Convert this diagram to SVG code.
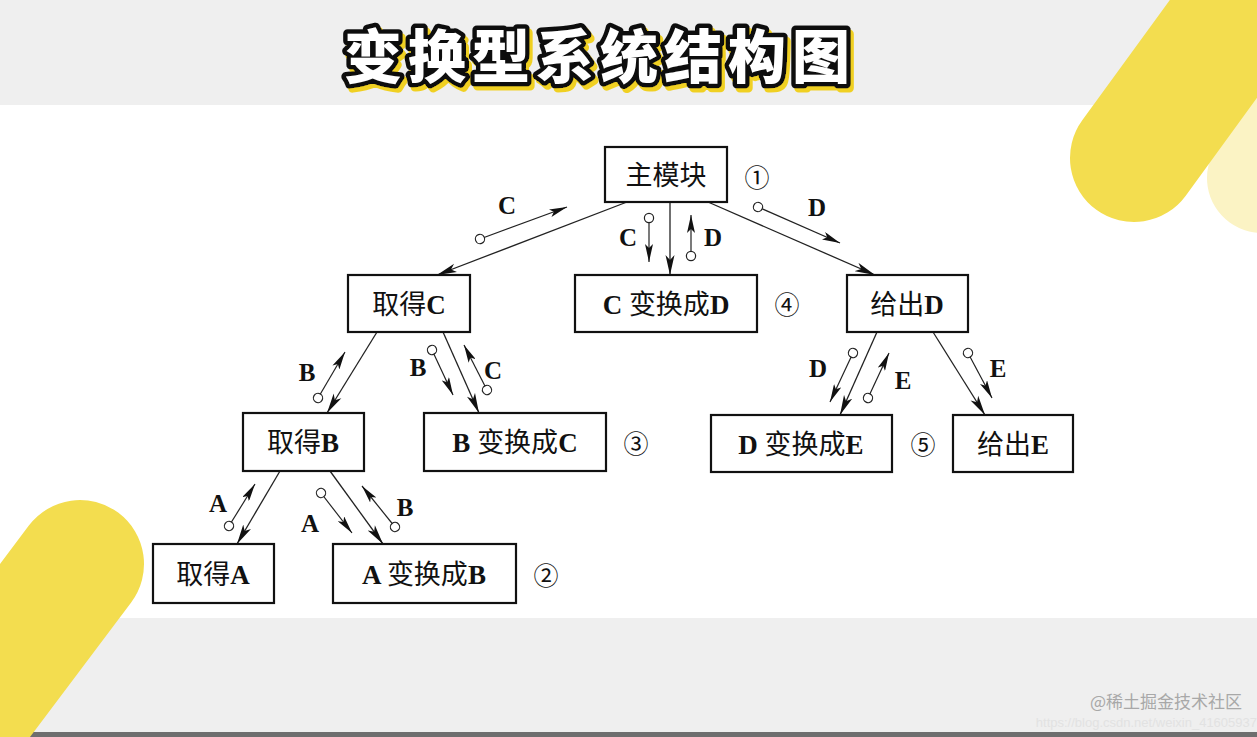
<svg xmlns="http://www.w3.org/2000/svg" width="1257" height="737" viewBox="0 0 1257 737">
<style>
.box{fill:#fff;stroke:#111;stroke-width:2.2}
.nt{font-family:"Noto Sans CJK SC","Liberation Serif",sans-serif;font-size:27px;fill:#111;text-anchor:middle}
.lt{font-family:"Liberation Serif",serif;font-weight:bold}
.num{font-family:"Noto Sans CJK SC",sans-serif;font-size:25px;fill:#111;text-anchor:middle;dominant-baseline:central}
.lbl{font-family:"Liberation Serif",serif;font-weight:bold;font-size:25px;fill:#111;text-anchor:middle;dominant-baseline:central}
.ln{stroke:#222;stroke-width:1.3;fill:none;marker-end:url(#arr)}
.dl{stroke:#222;stroke-width:1.2;fill:none;marker-start:url(#dot);marker-end:url(#arr2)}
</style>
<defs>
<marker id="arr" markerUnits="userSpaceOnUse" viewBox="0 0 20 10" markerWidth="20" markerHeight="10" refX="20" refY="5" orient="auto">
<path d="M0,0.5 L20,5 L0,9.5 L5,5 z" fill="#111"/>
</marker>
<marker id="arr2" markerUnits="userSpaceOnUse" viewBox="0 0 18 8" markerWidth="18" markerHeight="8" refX="18" refY="4" orient="auto">
<path d="M0,0 L18,4 L0,8 L4,4 z" fill="#111"/>
</marker>
<marker id="dot" markerUnits="userSpaceOnUse" viewBox="-6 -6 12 12" markerWidth="12" markerHeight="12" refX="0" refY="0" orient="auto">
<circle r="4.6" fill="#fff" stroke="#222" stroke-width="1.2"/>
</marker>
<filter id="shadow" x="-5%" y="-20%" width="110%" height="150%">
<feOffset in="SourceAlpha" dx="3" dy="4" result="o"/>
<feFlood flood-color="#f0d020"/>
<feComposite operator="in" in2="o" result="s"/>
<feMerge><feMergeNode in="s"/><feMergeNode in="SourceGraphic"/></feMerge>
</filter>
</defs>
<g id="background">
<rect x="0" y="0" width="1257" height="737" fill="#efefef"/>
<rect x="0" y="105" width="1257" height="513" fill="#ffffff"/>
<rect x="0" y="732" width="1257" height="5" fill="#6e6e6e"/>
<line x1="1262" y1="178" x2="1500" y2="-150" stroke="#fbf3c4" stroke-width="110" stroke-linecap="round"/>
<line x1="1134" y1="158" x2="1380" y2="-180" stroke="#f3dd4f" stroke-width="128" stroke-linecap="round"/>
<line x1="80" y1="564" x2="-120" y2="830" stroke="#f3dd4f" stroke-width="128" stroke-linecap="round"/>
</g>
<g id="title">
<text x="600" y="53" filter="url(#shadow)" font-family="Noto Sans CJK SC,sans-serif" font-weight="900" font-size="58" letter-spacing="6" text-anchor="middle" dominant-baseline="central" fill="#ffffff" stroke="#111" stroke-width="9" stroke-linejoin="round" paint-order="stroke">变换型系统结构图</text>
</g>
<g id="connectors">
<line class="ln" x1="627" y1="202" x2="437" y2="275"/>
<line class="ln" x1="670" y1="202" x2="670" y2="275"/>
<line class="ln" x1="708" y1="202" x2="875" y2="275"/>
<line class="ln" x1="377" y1="332" x2="327" y2="413"/>
<line class="ln" x1="443" y1="332" x2="479" y2="413"/>
<line class="ln" x1="877" y1="332" x2="840" y2="415"/>
<line class="ln" x1="933" y1="332" x2="985" y2="415"/>
<line class="ln" x1="280" y1="471" x2="237" y2="544"/>
<line class="ln" x1="330" y1="471" x2="383" y2="544"/>
<line class="dl" x1="480" y1="239" x2="567" y2="207"/>
<line class="dl" x1="649" y1="218" x2="649" y2="262"/>
<line class="dl" x1="691" y1="256" x2="691" y2="215"/>
<line class="dl" x1="758" y1="207" x2="840" y2="243"/>
<line class="dl" x1="318" y1="398" x2="345" y2="352"/>
<line class="dl" x1="432" y1="350" x2="453" y2="395"/>
<line class="dl" x1="487" y1="390" x2="464" y2="345"/>
<line class="dl" x1="853" y1="353" x2="830" y2="402"/>
<line class="dl" x1="868" y1="398" x2="889" y2="353"/>
<line class="dl" x1="968" y1="353" x2="992" y2="398"/>
<line class="dl" x1="229" y1="526" x2="255" y2="484"/>
<line class="dl" x1="321" y1="493" x2="352" y2="533"/>
<line class="dl" x1="395" y1="527" x2="362" y2="486"/>
<text class="lbl" x="507" y="205">C</text>
<text class="lbl" x="628" y="237">C</text>
<text class="lbl" x="713" y="237">D</text>
<text class="lbl" x="817" y="207">D</text>
<text class="lbl" x="307" y="372">B</text>
<text class="lbl" x="418" y="367">B</text>
<text class="lbl" x="493" y="370">C</text>
<text class="lbl" x="818" y="368">D</text>
<text class="lbl" x="903" y="380">E</text>
<text class="lbl" x="998" y="368">E</text>
<text class="lbl" x="218" y="503">A</text>
<text class="lbl" x="310" y="523">A</text>
<text class="lbl" x="405" y="507">B</text>
</g>
<g id="n-main"><rect class="box" x="605" y="147" width="122" height="55"/><text class="nt" x="666" y="185">主模块</text><text class="num" x="757" y="176">①</text></g>
<g id="n-getC"><rect class="box" x="348" y="275" width="122" height="57"/><text class="nt" x="409" y="314">取得<tspan class="lt">C</tspan></text></g>
<g id="n-CtoD"><rect class="box" x="575" y="275" width="182" height="57"/><text class="nt" x="666" y="314"><tspan class="lt">C </tspan>变换成<tspan class="lt">D</tspan></text><text class="num" x="787" y="303">④</text></g>
<g id="n-putD"><rect class="box" x="847" y="275" width="121" height="57"/><text class="nt" x="907" y="314">给出<tspan class="lt">D</tspan></text></g>
<g id="n-getB"><rect class="box" x="243" y="413" width="121" height="58"/><text class="nt" x="303" y="452">取得<tspan class="lt">B</tspan></text></g>
<g id="n-BtoC"><rect class="box" x="424" y="413" width="182" height="58"/><text class="nt" x="515" y="452"><tspan class="lt">B </tspan>变换成<tspan class="lt">C</tspan></text><text class="num" x="636" y="442">③</text></g>
<g id="n-DtoE"><rect class="box" x="711" y="415" width="181" height="57"/><text class="nt" x="801" y="454"><tspan class="lt">D </tspan>变换成<tspan class="lt">E</tspan></text><text class="num" x="923" y="443">⑤</text></g>
<g id="n-putE"><rect class="box" x="953" y="415" width="120" height="57"/><text class="nt" x="1013" y="454">给出<tspan class="lt">E</tspan></text></g>
<g id="n-getA"><rect class="box" x="153" y="544" width="121" height="59"/><text class="nt" x="213" y="584">取得<tspan class="lt">A</tspan></text></g>
<g id="n-AtoB"><rect class="box" x="333" y="544" width="183" height="59"/><text class="nt" x="424" y="584"><tspan class="lt">A </tspan>变换成<tspan class="lt">B</tspan></text><text class="num" x="546" y="574">②</text></g>
<g id="watermark">
<text x="1257" y="727" font-family="Liberation Sans,sans-serif" font-size="13" fill="#e2e2e2" text-anchor="end">https://blog.csdn.net/weixin_41605937</text>
<text x="1242" y="708" font-family="Noto Sans CJK SC,sans-serif" font-size="17" fill="#a8a8a8" text-anchor="end">@稀土掘金技术社区</text>
</g>
</svg>
